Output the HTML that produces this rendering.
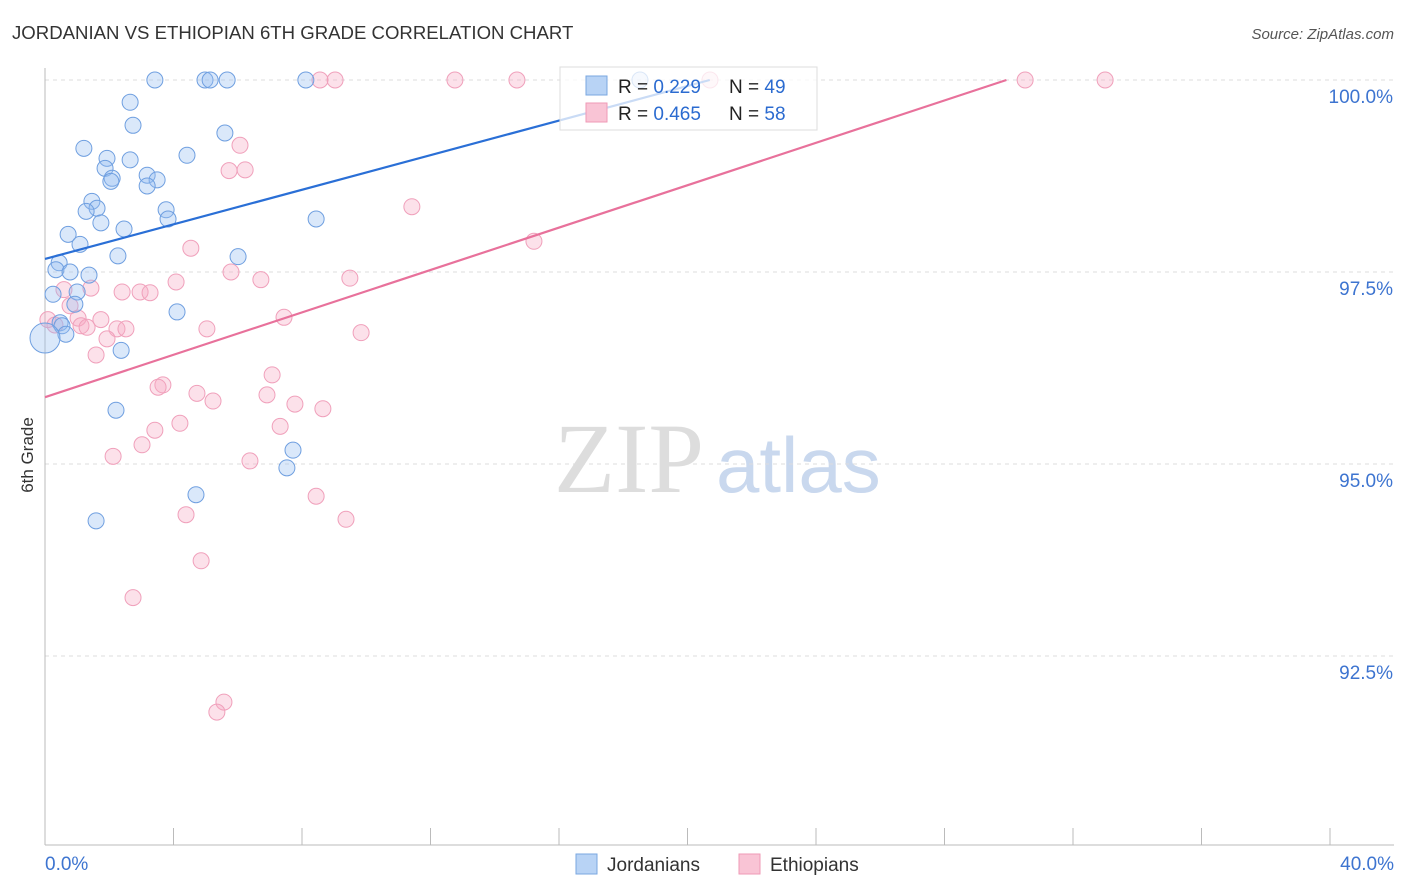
<!DOCTYPE html>
<html><head><meta charset="utf-8"><style>
body{margin:0;background:#fff;font-family:"Liberation Sans",sans-serif;}
#wrap{position:relative;width:1406px;height:892px;overflow:hidden;}
</style></head><body>
<div id="wrap">
<svg id="svg" width="1406" height="892" xmlns="http://www.w3.org/2000/svg">
<text x="12" y="39" font-size="18.6" fill="#333">JORDANIAN VS ETHIOPIAN 6TH GRADE CORRELATION CHART</text>
<text x="1394" y="39" font-size="15" fill="#555" text-anchor="end" font-style="italic">Source: ZipAtlas.com</text>
<text x="33" y="455" font-size="17" fill="#333" transform="rotate(-90 33 455)" text-anchor="middle">6th Grade</text>
<text x="554" y="492" font-size="100" fill="#ddd" font-family="Liberation Serif,serif">ZIP</text>
<text x="716" y="492" font-size="78" fill="#c9d8ee">atlas</text>
<g id="grid"></g><g id="axes"></g><g id="pts"></g><g id="lines"></g>
<g>
<rect x="560" y="67" width="257" height="63" fill="rgba(255,255,255,0.75)" stroke="#ddd"/>
<rect x="586" y="76" width="21" height="19" fill="#b8d3f5" stroke="#7aa7e0"/>
<rect x="586" y="103" width="21" height="19" fill="#f9c4d5" stroke="#ef9ab6"/>
<text x="618" y="93" font-size="19" fill="#222">R = <tspan fill="#2b6bd0">0.229</tspan></text>
<text x="729" y="93" font-size="19" fill="#222">N = <tspan fill="#2b6bd0">49</tspan></text>
<text x="618" y="120" font-size="19" fill="#222">R = <tspan fill="#2b6bd0">0.465</tspan></text>
<text x="729" y="120" font-size="19" fill="#222">N = <tspan fill="#2b6bd0">58</tspan></text>
</g>
<g>
<rect x="576" y="854" width="21" height="20" fill="#b8d3f5" stroke="#7aa7e0"/>
<text x="607" y="871" font-size="19" fill="#333">Jordanians</text>
<rect x="739" y="854" width="21" height="20" fill="#f9c4d5" stroke="#ef9ab6"/>
<text x="770" y="871" font-size="19" fill="#333">Ethiopians</text>
</g>
</svg>
</div>
<script>
const xTicks=[0,4,8,12,16,20,24,28,32,36,40];
const yTicks=[92.5,95,97.5,100];
const yTickLabels=["92.5%","95.0%","97.5%","100.0%"];
const xLabels=["0.0%","40.0%"];
const jorX=[3.42,4.98,5.14,5.67,8.12,18.52,2.65,2.74,5.60,1.21,4.42,1.93,2.65,1.87,3.18,2.09,2.05,3.49,3.18,1.46,1.62,1.28,3.77,3.83,1.74,2.46,8.44,0.72,1.09,2.27,6.01,0.44,0.34,0.78,1.37,0.25,1.00,0.93,4.11,0.47,0.53,0.65,0,2.37,2.21,7.72,7.53,4.70,1.59];
const jorY=[100,100,100,100,100,100,99.71,99.41,99.31,99.11,99.02,98.98,98.96,98.85,98.76,98.72,98.68,98.70,98.62,98.42,98.33,98.29,98.31,98.19,98.14,98.06,98.19,97.99,97.86,97.71,97.70,97.62,97.53,97.50,97.46,97.21,97.24,97.08,96.98,96.84,96.80,96.69,96.64,96.48,95.70,95.18,94.95,94.60,94.26];
const ethX=[8.56,9.03,12.76,14.69,20.70,30.51,33.0,6.07,5.73,6.23,11.42,15.22,4.54,5.79,6.72,9.49,4.08,0.59,1.43,2.40,2.96,3.27,0.78,7.44,1.74,1.03,0.09,0.31,1.12,1.31,2.24,2.52,5.04,9.84,1.93,1.59,7.07,3.67,3.52,4.73,6.91,5.23,7.78,8.65,4.20,3.42,7.32,3.02,2.12,6.38,8.44,4.39,9.37,4.86,2.74,5.57,5.35];
const ethY=[100,100,100,100,100,100,100,99.15,98.82,98.83,98.35,97.90,97.81,97.50,97.40,97.42,97.37,97.27,97.29,97.24,97.24,97.23,97.06,96.91,96.88,96.90,96.88,96.81,96.80,96.78,96.76,96.76,96.76,96.71,96.63,96.42,96.16,96.03,96.00,95.92,95.90,95.82,95.78,95.72,95.53,95.44,95.49,95.25,95.10,95.04,94.58,94.34,94.28,93.74,93.26,91.90,91.77];
const jorTrend=[97.67,0.1126];
const ethTrend=[95.87,0.138];
const X=v=>45+v*32.125, Y=v=>80+(100-v)*76.8;
const NS="http://www.w3.org/2000/svg";
function mk(tag,attrs,parent){const e=document.createElementNS(NS,tag);for(const k in attrs)e.setAttribute(k,attrs[k]);document.getElementById(parent).appendChild(e);return e;}
yTicks.forEach((t,i)=>{
 const l=mk('line',{x1:45,x2:1394,y1:Y(t),y2:Y(t),stroke:'#ddd','stroke-dasharray':'4,4'},'grid');
 
 
 const tx=mk('text',{x:1393,y:Y(t)+23,'font-size':19,fill:'#3d74d0','text-anchor':'end'},'grid');
 tx.textContent=yTickLabels[i];
 
 
});
const ax=mk('line',{x1:45,x2:45,y1:68,y2:845,stroke:'#bbb'},'axes');


const bx=mk('line',{x1:45,x2:1394,y1:845,y2:845,stroke:'#bbb'},'axes');


xTicks.forEach(t=>{const l=mk('line',{x1:X(t),x2:X(t),y1:828,y2:845,stroke:'#bbb'},'axes');
 
 });
const xl0=mk('text',{x:45,y:870,'font-size':19,fill:'#3d74d0'},'axes');xl0.textContent=xLabels[0];


const xl1=mk('text',{x:1394,y:870,'font-size':19,fill:'#3d74d0','text-anchor':'end'},'axes');xl1.textContent=xLabels[1];


ethX.forEach((v,i)=>{const c=mk('circle',{cx:X(v),cy:Y(ethY[i]),r:8,fill:'rgba(246,170,195,0.35)',stroke:'#f0a0bb','stroke-width':1},'pts');
 
 });
jorX.forEach((v,i)=>{const c=mk('circle',{cx:X(v),cy:Y(jorY[i]),r:(i==42?15:8),fill:'rgba(150,190,240,0.35)',stroke:'#6f9fe0','stroke-width':1},'pts');
 
 });
const x1=(100-jorTrend[0])/jorTrend[1];
const jl=mk('line',{x1:X(0),y1:Y(jorTrend[0]),x2:X(x1),y2:Y(100),stroke:'#2a6fd6','stroke-width':2.2},'lines');


const x2=(100-ethTrend[0])/ethTrend[1];
const el=mk('line',{x1:X(0),y1:Y(ethTrend[0]),x2:X(x2),y2:Y(100),stroke:'#e8719b','stroke-width':2.2},'lines');


</script>
</body></html>
